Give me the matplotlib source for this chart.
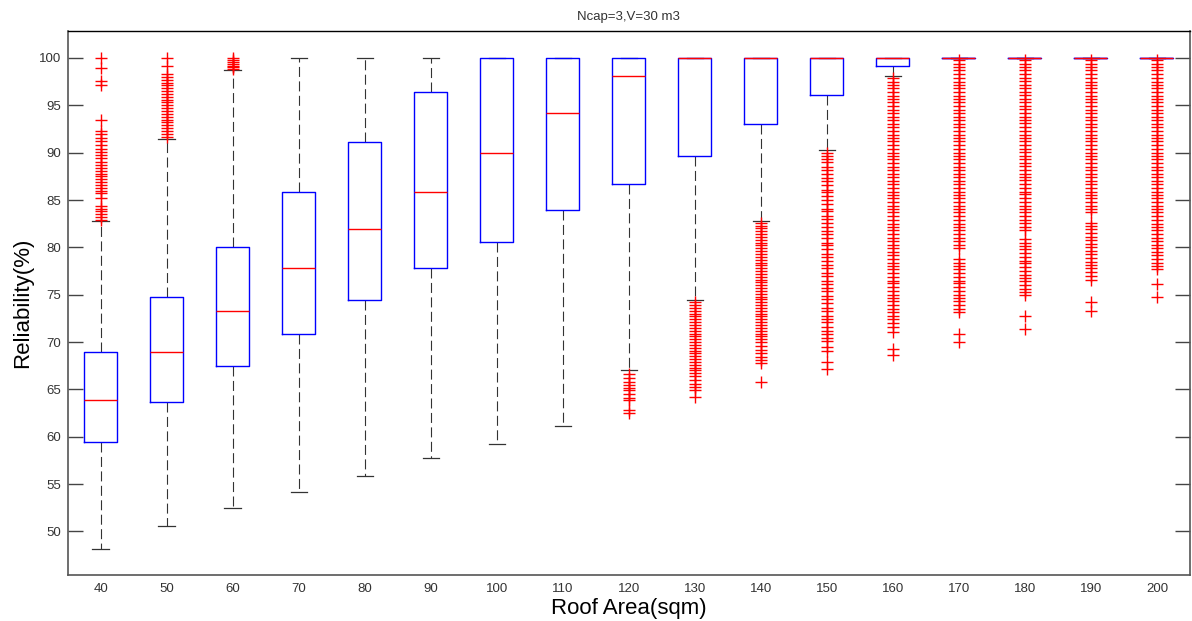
import matplotlib
matplotlib.use("Agg")
import matplotlib.pyplot as plt

plt.rcParams['font.family'] = ['Liberation Sans', 'DejaVu Sans']

# Roof area categories (sqm)
areas = [40, 50, 60, 70, 80, 90, 100, 110, 120, 130, 140, 150, 160, 170, 180, 190, 200]

# Box statistics of reliability (%) per roof area
q1 = [59.4, 63.7, 67.5, 70.9, 74.4, 77.8, 80.6, 83.9, 86.7, 89.7, 93.06, 96.06,
      99.2, 100, 100, 100, 100]
medians = [63.9, 68.9, 73.3, 77.8, 81.9, 85.9, 90.0, 94.15, 98.1, 100, 100, 100,
           100, 100, 100, 100, 100]
q3 = [68.9, 74.8, 80.0, 85.85, 91.1, 96.4, 100, 100, 100, 100, 100, 100,
      100, 100, 100, 100, 100]
whisker_low = [48.1, 50.6, 52.5, 54.2, 55.85, 57.75, 59.2, 61.1, 67.0, 74.4, 82.8,
               90.25, 98.1, 100, 100, 100, 100]
whisker_high = [82.8, 91.4, 98.7, 100, 100, 100, 100, 100, 100, 100, 100, 100,
                100, 100, 100, 100, 100]

# Outlying reliability values per roof area
out_40 = [100.0, 98.9, 97.6, 97.2, 93.4, 92.3, 92.0, 91.6, 91.2, 90.8, 90.4, 90.1,
          89.8, 89.4, 89.0, 88.7, 88.4, 88.1, 87.8, 87.5, 87.2, 86.9, 86.6, 86.3,
          86.0, 85.7, 85.2, 84.4, 84.1, 83.8, 83.5, 83.2, 82.9]
out_50 = [100.0, 99.2, 98.3, 98.0, 97.7, 97.4, 97.1, 96.8, 96.5, 96.2, 95.9, 95.6,
          95.3, 95.0, 94.7, 94.4, 94.1, 93.8, 93.5, 93.2, 92.9, 92.6, 92.3, 92.0,
          91.7]
out_60 = [100.0, 99.8, 99.6, 99.4, 99.2, 99.0, 98.8]
out_70 = []
out_80 = []
out_90 = []
out_100 = []
out_110 = []
out_120 = [66.6, 66.2, 65.8, 65.5, 65.2, 64.9, 64.5, 64.1, 63.9, 62.8, 62.5]
out_130 = [74.2, 73.9, 73.6, 73.3, 73.0, 72.7, 72.4, 72.1, 71.8, 71.5, 71.2, 70.9,
           70.6, 70.3, 70.0, 69.7, 69.4, 69.1, 68.8, 68.5, 68.2, 67.9, 67.6, 67.3,
           67.0, 66.7, 66.4, 66.0, 65.6, 65.3, 64.9, 64.2]
out_140 = [82.6, 82.3, 82.0, 81.7, 81.4, 81.1, 80.8, 80.5, 80.2, 79.9, 79.6, 79.3,
           79.0, 78.7, 78.4, 78.1, 77.8, 77.5, 77.2, 76.9, 76.6, 76.3, 76.0, 75.7,
           75.4, 75.1, 74.8, 74.5, 74.2, 73.9, 73.6, 73.3, 73.0, 72.7, 72.4, 72.1,
           71.8, 71.5, 71.2, 70.9, 70.6, 70.3, 70.0, 69.6, 69.2, 68.8, 68.4, 68.1,
           67.8, 65.8]
out_150 = [90.0, 89.7, 89.3, 89.0, 88.5, 88.2, 87.8, 87.3, 87.0, 86.6, 86.1, 85.8,
           85.4, 85.0, 84.6, 84.1, 83.8, 83.3, 83.0, 82.6, 82.2, 81.7, 81.4, 81.0,
           80.5, 80.2, 79.8, 79.3, 79.0, 78.6, 78.1, 77.8, 77.3, 77.0, 76.5, 76.1,
           75.7, 75.4, 74.9, 74.5, 74.1, 73.6, 73.3, 72.8, 72.4, 72.1, 71.6, 71.2,
           70.9, 70.4, 70.1, 69.5, 69.1, 67.9, 67.2]
out_160 = [97.9, 97.5, 97.2, 96.8, 96.4, 96.0, 95.7, 95.3, 94.9, 94.5, 94.2, 93.8,
           93.4, 93.0, 92.7, 92.3, 91.9, 91.5, 91.2, 90.8, 90.4, 90.0, 89.7, 89.3,
           88.9, 88.5, 88.2, 87.8, 87.4, 87.0, 86.7, 86.3, 85.9, 85.5, 85.2, 84.8,
           84.4, 84.0, 83.7, 83.3, 82.9, 82.5, 82.2, 81.8, 81.4, 81.0, 80.7, 80.3,
           79.9, 79.5, 79.2, 78.8, 78.4, 78.0, 77.7, 77.3, 76.9, 76.5, 76.2, 75.8,
           75.4, 75.0, 74.7, 74.3, 73.9, 73.5, 73.2, 72.8, 72.4, 72.0, 71.6, 71.1,
           69.3, 68.6]
out_170 = [99.8, 99.4, 99.0, 98.7, 98.3, 97.9, 97.5, 97.2, 96.8, 96.4, 96.0, 95.7,
           95.3, 94.9, 94.5, 94.2, 93.8, 93.4, 93.0, 92.7, 92.3, 91.9, 91.5, 91.2,
           90.8, 90.4, 90.0, 89.7, 89.3, 88.9, 88.5, 88.2, 87.8, 87.4, 87.0, 86.7,
           86.3, 85.9, 85.5, 85.2, 84.8, 84.4, 84.0, 83.7, 83.3, 82.9, 82.5, 82.2,
           81.8, 81.4, 81.0, 80.7, 80.3, 79.9, 78.8, 78.4, 78.0, 77.7, 77.3, 76.9,
           76.5, 76.2, 75.8, 75.4, 75.0, 74.7, 74.3, 73.9, 73.5, 73.2, 70.85, 70.0]
out_180 = [99.8, 99.4, 99.1, 98.7, 98.3, 97.9, 97.6, 97.2, 96.8, 96.4, 96.1, 95.7,
           95.3, 94.9, 94.6, 94.2, 93.8, 93.4, 93.1, 92.7, 92.3, 91.9, 91.6, 91.2,
           90.8, 90.4, 90.1, 89.7, 89.3, 88.9, 88.6, 88.2, 87.8, 87.4, 87.1, 86.7,
           86.3, 85.9, 85.6, 85.2, 84.8, 84.4, 84.1, 83.7, 83.3, 82.9, 82.6, 82.2,
           81.8, 80.9, 80.5, 80.1, 79.8, 79.4, 79.0, 78.6, 78.3, 77.9, 77.5, 77.1,
           76.8, 76.4, 76.0, 75.6, 75.3, 75.0, 72.75, 71.4]
out_190 = [99.8, 99.4, 99.0, 98.7, 98.3, 97.9, 97.5, 97.2, 96.8, 96.4, 96.0, 95.7,
           95.3, 94.9, 94.5, 94.2, 93.8, 93.4, 93.0, 92.7, 92.3, 91.9, 91.5, 91.2,
           90.8, 90.4, 90.0, 89.7, 89.3, 88.9, 88.5, 88.2, 87.8, 87.4, 87.0, 86.7,
           86.3, 85.9, 85.5, 85.2, 84.8, 84.4, 84.0, 83.7, 82.6, 82.3, 81.9, 81.5,
           81.1, 80.8, 80.4, 80.0, 79.6, 79.3, 78.9, 78.5, 78.1, 77.8, 77.4, 77.0,
           76.6, 74.25, 73.3]
out_200 = [99.8, 99.4, 99.0, 98.7, 98.3, 97.9, 97.5, 97.2, 96.8, 96.4, 96.0, 95.7,
           95.3, 94.9, 94.5, 94.2, 93.8, 93.4, 93.0, 92.7, 92.3, 91.9, 91.5, 91.2,
           90.8, 90.4, 90.0, 89.7, 89.3, 88.9, 88.5, 88.2, 87.8, 87.4, 87.0, 86.7,
           86.3, 85.9, 85.5, 85.2, 84.8, 84.4, 84.0, 83.7, 83.3, 82.9, 82.5, 82.2,
           81.8, 81.4, 81.0, 80.7, 80.3, 79.9, 79.5, 79.2, 78.8, 78.4, 78.0, 77.7,
           76.1, 74.8]

outliers = [out_40, out_50, out_60, out_70, out_80, out_90, out_100, out_110,
            out_120, out_130, out_140, out_150, out_160, out_170, out_180,
            out_190, out_200]

y_ticks = [50, 55, 60, 65, 70, 75, 80, 85, 90, 95, 100]

stats = []
for i, a in enumerate(areas):
    stats.append(dict(label=str(a), q1=q1[i], med=medians[i], q3=q3[i],
                      whislo=whisker_low[i], whishi=whisker_high[i],
                      fliers=outliers[i]))

fig = plt.figure(figsize=(11.92, 6.21), dpi=100)
ax = fig.add_axes([0.0568, 0.0741, 0.9415, 0.8752])

positions = list(range(1, len(areas) + 1))
ax.bxp(stats, positions=positions, widths=0.5, capwidths=0.25,
       showfliers=True,
       boxprops=dict(color='#0000ff', linewidth=1.0, zorder=3),
       medianprops=dict(color='#ff0000', linewidth=1.0, zorder=4),
       whiskerprops=dict(color='#333333', linewidth=0.8,
                         linestyle=(0, (9, 4)), zorder=2),
       capprops=dict(color='#333333', linewidth=0.9, zorder=2),
       flierprops=dict(marker='+', markersize=8.5, markeredgecolor='#ff0000',
                       markeredgewidth=1.0, linestyle='none', zorder=5))

ax.set_xlim(0.5, 17.5)
ax.set_ylim(45.4, 102.8)
ax.set_yticks(y_ticks)
ax.set_yticklabels([str(t) for t in y_ticks])
ax.set_xticks(positions)
ax.set_xticklabels([str(a) for a in areas])

ax.tick_params(axis='y', direction='in', length=11, width=1, colors='#444444',
               labelcolor='#333333', labelsize=9.5, left=True, right=True, pad=5)
ax.tick_params(axis='x', length=0, labelcolor='#333333', labelsize=9.5, pad=6)

for side in ['left', 'bottom', 'right']:
    ax.spines[side].set_color('#555555')
    ax.spines[side].set_linewidth(1.2)
ax.spines['top'].set_color('#000000')
ax.spines['top'].set_linewidth(1.0)

ax.set_title('Ncap=3,V=30 m3', fontsize=9.5, color='#333333', pad=8)
ax.set_xlabel('Roof Area(sqm)', fontsize=16, labelpad=2)
ax.set_ylabel('Reliability(%)', fontsize=16, labelpad=4)

fig.savefig('out.png', dpi=100)
